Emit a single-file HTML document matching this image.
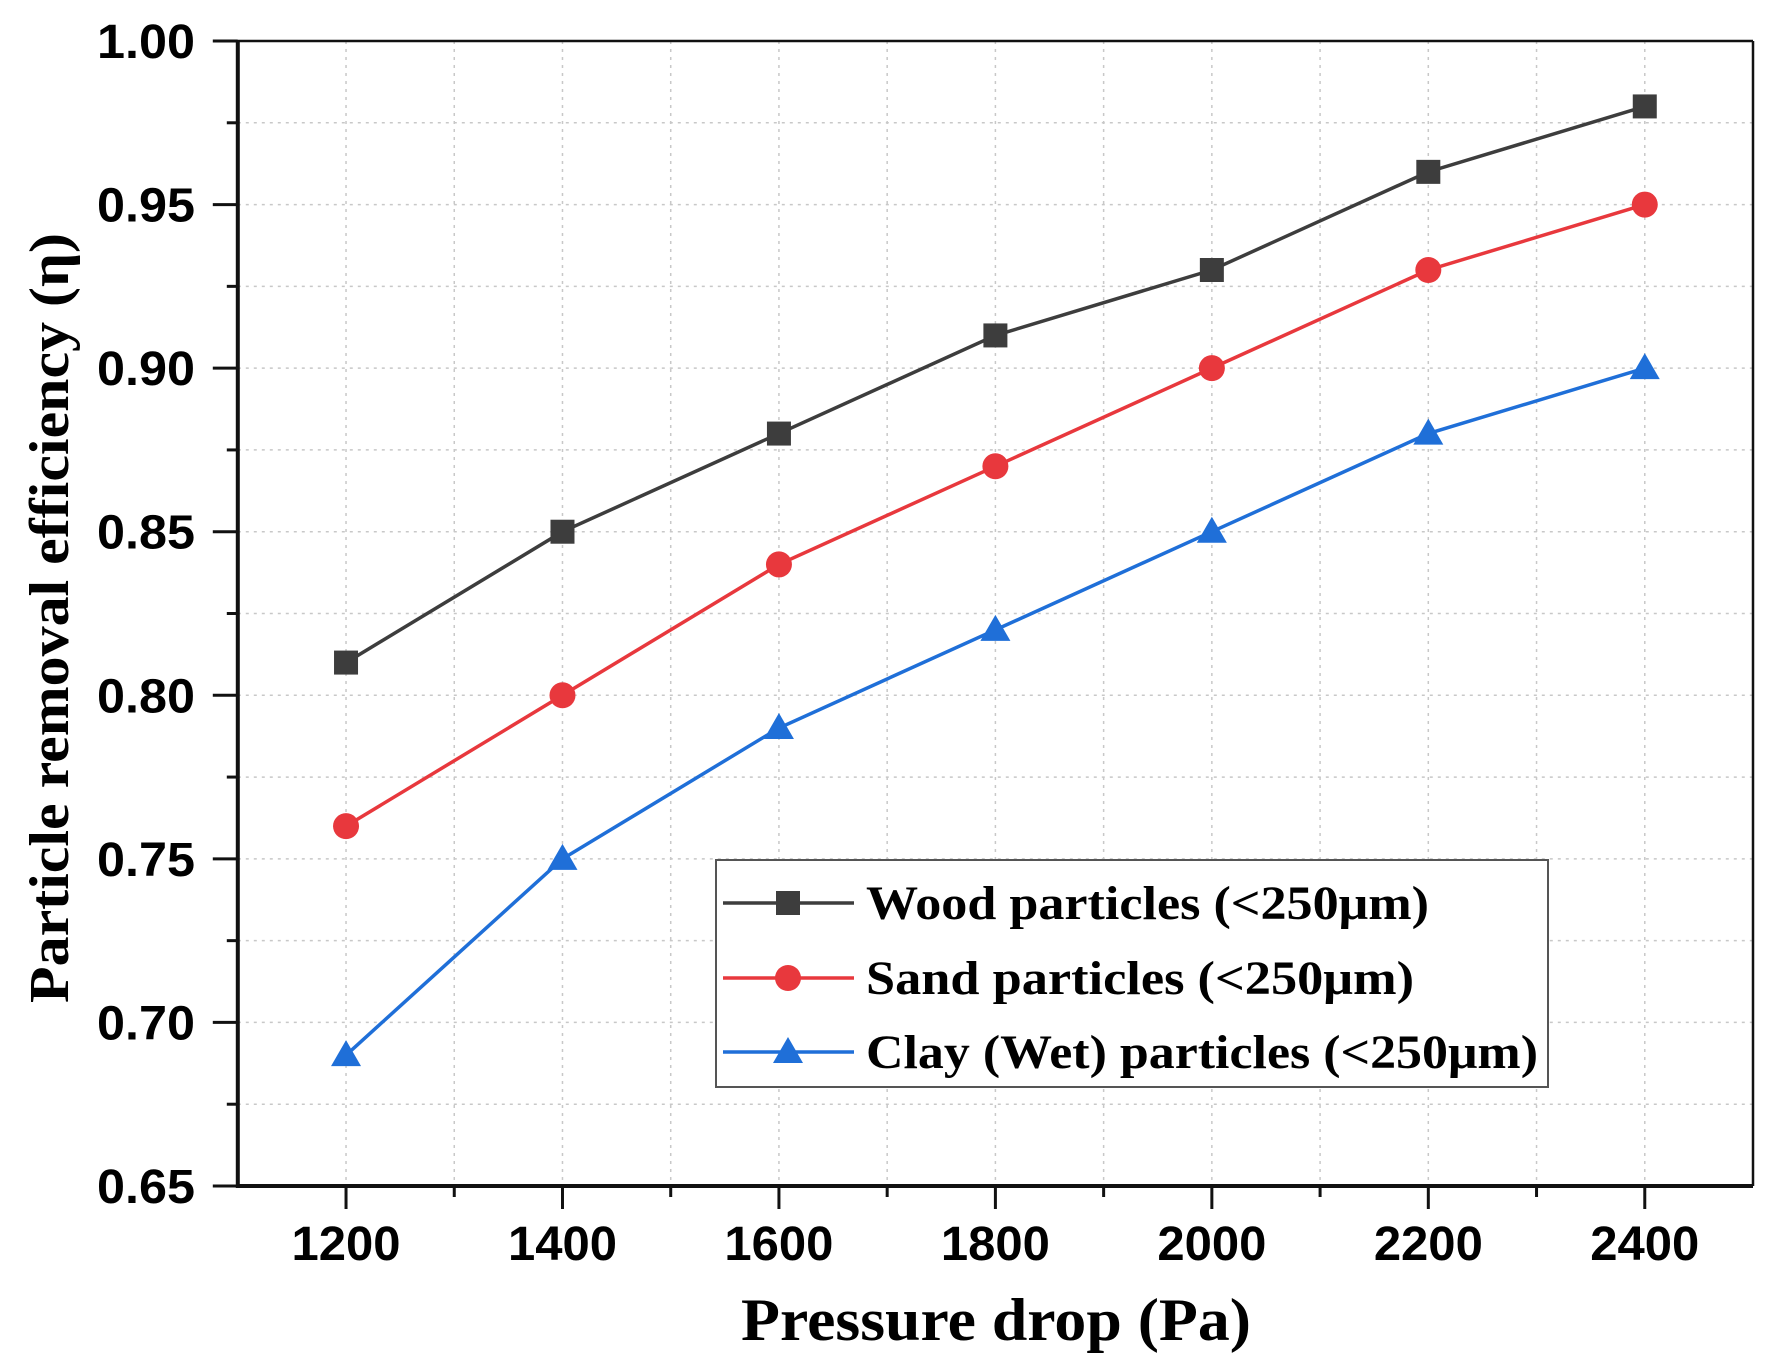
<!DOCTYPE html>
<html><head><meta charset="utf-8"><style>
body{margin:0;background:#fff;}
svg{display:block;}
</style></head><body>
<svg id="chart" width="1779" height="1371" viewBox="0 0 1779 1371" xmlns="http://www.w3.org/2000/svg">
<g id="grid"></g>
<g id="axes"></g>
<g id="series"></g>
<text x="996" y="1340" text-anchor="middle" font-family="Liberation Serif, serif" font-weight="bold" font-size="60" textLength="510" lengthAdjust="spacingAndGlyphs">Pressure drop (Pa)</text>
<text transform="translate(68,618) rotate(-90)" text-anchor="middle" font-family="Liberation Serif, serif" font-weight="bold" font-size="56" textLength="770" lengthAdjust="spacingAndGlyphs">Particle removal efficiency (η)</text>
<g id="legend">
<rect x="716" y="860" width="832" height="227" fill="#fff" stroke="#555" stroke-width="2"/>
</g>
</svg>
<script>
const xValues=[1200,1400,1600,1800,2000,2200,2400];
const woodValues=[0.81,0.85,0.88,0.91,0.93,0.96,0.98];
const sandValues=[0.76,0.80,0.84,0.87,0.90,0.93,0.95];
const clayValues=[0.69,0.75,0.79,0.82,0.85,0.88,0.90];
const xTickLabels=["1200","1400","1600","1800","2000","2200","2400"];
const yTickLabels=["0.65","0.70","0.75","0.80","0.85","0.90","0.95","1.00"];
const seriesNames=["Wood particles (<250μm)","Sand particles (<250μm)","Clay (Wet) particles (<250μm)"];

const NS="http://www.w3.org/2000/svg";
const X0=237.8,X1=1753,xMin=1100,xMax=2500;
const Y0=1186,Y1=41,yMin=0.65,yMax=1.0;
function sx(v){return X0+(v-xMin)/(xMax-xMin)*(X1-X0);}
function sy(v){return Y0-(v-yMin)/(yMax-yMin)*(Y0-Y1);}
function mk(tag,attrs,parent){const e=document.createElementNS(NS,tag);for(const k in attrs)e.setAttribute(k,attrs[k]);parent.appendChild(e);return e;}
const grid=document.getElementById('grid'),axes=document.getElementById('axes'),ser=document.getElementById('series'),leg=document.getElementById('legend');

for(let v=1200;v<=2400;v+=100){
  const x=sx(v);
  const g=mk('line',{x1:x,x2:x,y1:Y1,y2:Y0,stroke:'#c8c8c8','stroke-width':1.5,'stroke-dasharray':'3,5'},grid);
  
  
  const major=(v%200===0);
  const t=mk('line',{x1:x,x2:x,y1:Y0,y2:Y0+(major?23:11),stroke:'#111','stroke-width':3},axes);
  
  
}
xValues.forEach((v,i)=>{
  const t=mk('text',{x:sx(v),y:1260,'text-anchor':'middle','font-family':'Liberation Sans, sans-serif','font-weight':'bold','font-size':48,textLength:109,lengthAdjust:'spacingAndGlyphs'},axes);
  t.textContent=xTickLabels[i];
  
  
});
for(let k=0;k<=14;k++){
  const v=yMin+k*0.025,y=sy(v);
  if(k>0&&k<14){
    const g=mk('line',{x1:X0,x2:X1,y1:y,y2:y,stroke:'#c8c8c8','stroke-width':1.5,'stroke-dasharray':'3,5'},grid);
    
    
  }
  const major=(k%2===0);
  const t=mk('line',{x1:X0-(major?25:11),x2:X0,y1:y,y2:y,stroke:'#111','stroke-width':3},axes);
  
  
}
yTickLabels.forEach((s,i)=>{
  const t=mk('text',{x:195,y:sy(parseFloat(s))+17,'text-anchor':'end','font-family':'Liberation Sans, sans-serif','font-weight':'bold','font-size':48,textLength:98,lengthAdjust:'spacingAndGlyphs'},axes);
  t.textContent=s;
  
  
});
const fr=[[X0,Y1,X1,Y1,2.5],[X1,Y1,X1,Y0,2.5],[X0,Y0,X1,Y0,4],[X0,Y1-1,X0,Y0+2,4]];
fr.forEach(f=>{const l=mk('line',{x1:f[0],y1:f[1],x2:f[2],y2:f[3],stroke:'#111','stroke-width':f[4]},axes);
  
  });

const colors=['#3d3d3d','#e8383d','#1f6fd8'];
const allVals=[woodValues,sandValues,clayValues];
const shapes=['square','circle','triangle'];
function marker(shape,x,y,c,parent){
  let e;
  if(shape==='square')e=mk('rect',{x:x-12,y:y-12,width:24,height:24,fill:c},parent);
  else if(shape==='circle')e=mk('circle',{cx:x,cy:y,r:13,fill:c},parent);
  else e=mk('polygon',{points:`${x},${y-15} ${x+15},${y+11} ${x-15},${y+11}`,fill:c},parent);
  return e;
}
const serNames=['wood','sand','clay'];
allVals.forEach((vals,si)=>{
  const pts=vals.map((v,i)=>sx(xValues[i])+','+sy(v)).join(' ');
  const pl=mk('polyline',{points:pts,fill:'none',stroke:colors[si],'stroke-width':3.5},ser);
  
  
  vals.forEach((v,i)=>{
    const m=marker(shapes[si],sx(xValues[i]),sy(v),colors[si],ser);
    
    
  });
});
const rowY=[903,978,1052];
const textW=[563,548,672];
seriesNames.forEach((n,i)=>{
  const y=rowY[i];
  const l=mk('line',{x1:723,x2:854,y1:y,y2:y,stroke:colors[i],'stroke-width':3.5},leg);
  
  
  const m=marker(shapes[i],788,y,colors[i],leg);
  
  
  const t=mk('text',{x:866,y:y+16,'font-family':'Liberation Serif, serif','font-weight':'bold','font-size':48,textLength:textW[i],lengthAdjust:'spacingAndGlyphs'},leg);
  t.textContent=n;
  
  
});
</script>
</body></html>
